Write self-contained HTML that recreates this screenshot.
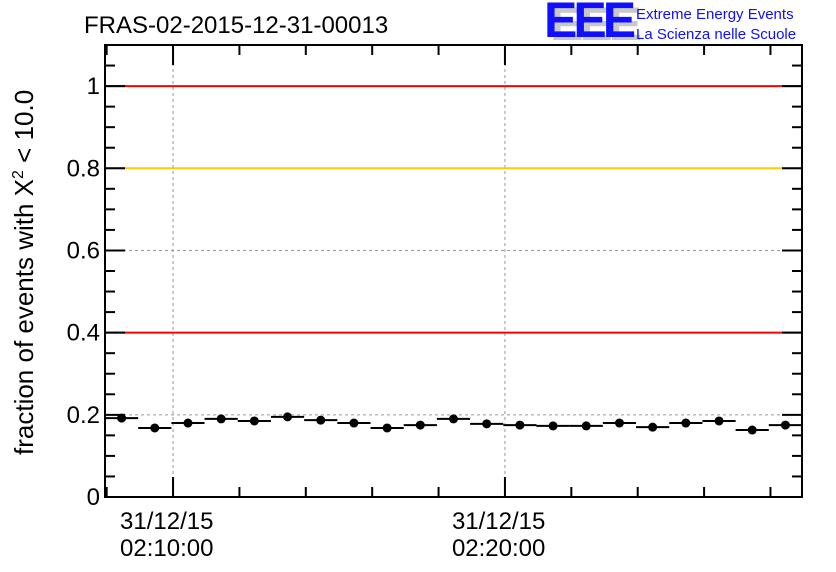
<!DOCTYPE html>
<html><head><meta charset="utf-8"><style>body{margin:0;background:#fff}svg{display:block;font-family:"Liberation Sans",sans-serif}</style></head>
<body>
<svg id="chart" width="836" height="572" viewBox="0 0 836 572">
<text x="84" y="33" font-size="24">FRAS-02-2015-12-31-00013</text>
<g>
<text x="550" y="42" font-size="50" font-weight="bold" fill="#c8c8c8" letter-spacing="-4" transform="scale(1,0.95)">EEE</text>
<text x="544" y="37" font-size="50" font-weight="bold" fill="#1010ff" letter-spacing="-4">EEE</text>
<text x="636" y="19" font-size="15" fill="#1010ff">Extreme Energy Events</text>
<text x="636" y="39" font-size="15" fill="#1010ff">La Scienza nelle Scuole</text>
</g>
<text transform="translate(33,455) rotate(-90)" font-size="26">fraction of events with Χ<tspan dy="-10" font-size="16">2</tspan><tspan dy="10"> &lt; 10.0</tspan></text>
<g id="plot"></g>
</svg>
<script>
const values=[0.192,0.168,0.18,0.19,0.185,0.195,0.187,0.18,0.168,0.175,0.19,0.178,0.175,0.173,0.173,0.18,0.17,0.18,0.185,0.163,0.175];
const yTicks=[0,0.2,0.4,0.6,0.8,1];
const yTickLabels=["0","0.2","0.4","0.6","0.8","1"];
const refLines=[1,0.8,0.4];
const refColors=["#ff0000","#ffcc00","#ff0000"];
const xTickLabels=[["31/12/15","02:10:00"],["31/12/15","02:20:00"]];
const xTickMinutes=[2.05,12.05];
const L=105,R=802,T=45,B=497,yMax=1.1,nMin=21;
const ns="http://www.w3.org/2000/svg";
const g=document.getElementById('plot');
const y=v=>B-(v/yMax)*(B-T);
const x=m=>L+m*(R-L)/nMin;
function el(t,a,p){const e=document.createElementNS(ns,t);for(const k in a)e.setAttribute(k,a[k]);(p||g).appendChild(e);return e;}
yTicks.forEach(v=>{if(v>0&&!refLines.includes(v)){const l=el('line',{x1:L,x2:R,y1:y(v),y2:y(v),stroke:'#999','stroke-dasharray':'3,3'});

}});
xTickMinutes.forEach(m=>{const l=el('line',{x1:x(m),x2:x(m),y1:T,y2:B,stroke:'#999','stroke-dasharray':'3,3'});

});
refLines.forEach((v,i)=>{const l=el('line',{x1:L,x2:R,y1:y(v),y2:y(v),stroke:refColors[i],'stroke-width':2});

});
const f=el('rect',{x:L,y:T,width:R-L,height:B-T,fill:'none',stroke:'#000','stroke-width':2});


for(let v=0;v<=1.1001;v+=0.05){const major=Math.abs(v/0.2-Math.round(v/0.2))<1e-6;const len=major?20:10;
el('line',{x1:L,x2:L+len,y1:y(v),y2:y(v),stroke:'#000','stroke-width':2});
el('line',{x1:R,x2:R-len,y1:y(v),y2:y(v),stroke:'#000','stroke-width':2});}
yTicks.forEach((v,i)=>{const t=el('text',{x:L-5,y:y(v)+8,'font-size':24,'text-anchor':'end'});t.textContent=yTickLabels[i];

});
for(let m=xTickMinutes[0]-2;m<nMin;m+=2){if(m<0)continue;const major=xTickMinutes.some(z=>Math.abs(z-m)<1e-6);const len=major?20:10;
el('line',{x1:x(m),x2:x(m),y1:B,y2:B-len,stroke:'#000','stroke-width':2});
el('line',{x1:x(m),x2:x(m),y1:T,y2:T+len,stroke:'#000','stroke-width':2});}
xTickMinutes.forEach((m,i)=>{xTickLabels[i].forEach((s,j)=>{const t=el('text',{x:x(m)-53,y:529+j*27,'font-size':24});t.textContent=s;

});});
values.forEach((v,i)=>{const l=el('line',{x1:x(i),x2:x(i+1),y1:y(v),y2:y(v),stroke:'#000','stroke-width':2});


const c=el('circle',{cx:x(i+0.5),cy:y(v),r:4.5,fill:'#000'});

});
</script>
</body></html>
